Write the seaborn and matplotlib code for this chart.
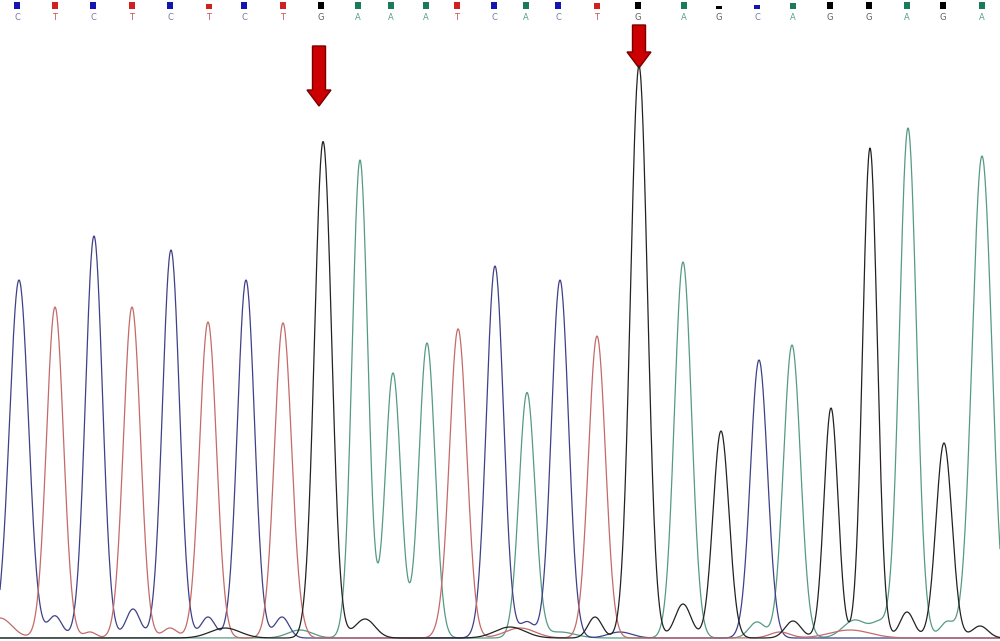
import numpy as np
import pandas as pd
import matplotlib
matplotlib.use("Agg")
import matplotlib.pyplot as plt
import seaborn as sns

# ---- data ----
bases = list("CTCTCTCTGAAATCACTGAGCAGGAGA")
base_pos = [19, 55, 94, 132, 171, 208, 246, 283, 323, 360, 393, 427, 458, 495,
            527, 560, 597, 639, 683, 721, 759, 792, 831, 870, 908, 944, 982]
label_pos = [17, 55, 93, 132, 170, 209, 244, 283, 321, 358, 391, 426, 457, 494,
             526, 558, 597, 638, 684, 719, 757, 793, 830, 869, 907, 943, 982]
peak_height = [358, 331, 402, 331, 388, 316, 358, 315, 491, 478, 265, 295, 308, 372,
               245, 350, 302, 572, 376, 207, 278, 293, 230, 490, 510, 195, 482]
peak_width = [9.5, 8.5, 8.5, 8.5, 8.5, 8.5, 8.5, 8.5, 8.5, 7.8, 7.8, 8, 8.5, 8.5,
              8, 8.5, 8.5, 8.5, 8.5, 8, 8.5, 8.5, 7, 7.3, 8.5, 8, 9.8]
quality = [7, 7, 7, 7, 7, 5.5, 7, 7, 7, 7, 7, 7, 7, 7,
           7, 7, 6, 7, 7, 3, 4, 6, 7, 7, 7, 7, 7]

# minor (background) peaks: channel, position, height, width
minor_base = ["T", "T", "T", "T", "T", "T", "T", "T", "T",
              "C", "C", "C", "C", "C", "C", "C",
              "G", "G", "G", "G", "G", "G", "G", "G", "G",
              "A", "A", "A", "A", "A", "A"]
minor_pos = [0, 90, 170, 300, 440, 470, 520, 780, 850,
             55, 133, 208, 282, 527, 560, 620,
             225, 365, 510, 595, 683, 793, 907, 980, 330,
             757, 855, 880, 947, 300, 560]
minor_height = [20, 6, 10, 6, 5, 8, 10, 6, 8,
                22, 29, 21, 21, 16, 8, 6,
                10, 19, 11, 21, 34, 17, 26, 12, 8,
                16, 18, 14, 16, 8, 6]
minor_width = [12, 6, 7, 6, 6, 6, 15, 10, 20,
               7, 7, 7, 7, 7, 10, 12,
               15, 10, 15, 7, 8, 8, 7, 8, 8,
               8, 12, 8, 7, 12, 15]

line_colors = {"C": "#404088", "T": "#c46a6a", "G": "#222222", "A": "#559a86"}
square_colors = {"C": "#1414b0", "T": "#d02020", "G": "#000000", "A": "#1a7a5a"}
letter_colors = {"C": "#7878a8", "T": "#c05858", "G": "#606060", "A": "#58a088"}

# ---- build traces ----
x = np.linspace(0, 1000, 2001)
frames = []
for ch in "CTGA":
    y = np.zeros_like(x)
    for b, p, h, w in zip(bases, base_pos, peak_height, peak_width):
        if b == ch:
            y += h * np.exp(-0.5 * ((x - p) / w) ** 2)
    for b, p, h, w in zip(minor_base, minor_pos, minor_height, minor_width):
        if b == ch:
            y += h * np.exp(-0.5 * ((x - p) / w) ** 2)
    frames.append(pd.DataFrame({"pos": x, "signal": y, "base": ch}))
df = pd.concat(frames, ignore_index=True)

sns.set_theme(style="white")
fig = plt.figure(figsize=(10, 6.41), dpi=100)
ax = fig.add_axes([0, 0, 1, 1])
sns.lineplot(data=df, x="pos", y="signal", hue="base", palette=line_colors,
             hue_order=["A", "C", "T", "G"], legend=False, linewidth=0.9,
             ax=ax, sort=False, estimator=None)
ax.set_xlim(0, 1000)
ax.set_ylim(-3, 638)
ax.axis("off")

# quality squares and base letters
for b, p, q in zip(bases, label_pos, quality):
    ax.add_patch(plt.Rectangle((p - 3, 638 - 9), 6, q, color=square_colors[b], lw=0))
    ax.text(p, 638 - 17, b, color=letter_colors[b], fontsize=6,
            ha="center", va="center", family="DejaVu Sans")

# red arrows
for xa, ytop, ytip in [(319, 638 - 46, 638 - 106), (639, 638 - 25, 638 - 68)]:
    ax.arrow(xa, ytop, 0, ytip - ytop, width=13, head_width=24, head_length=16,
             length_includes_head=True, fc="#cc0000", ec="#7a0000", lw=1.0)

fig.savefig("out.png", dpi=100)
